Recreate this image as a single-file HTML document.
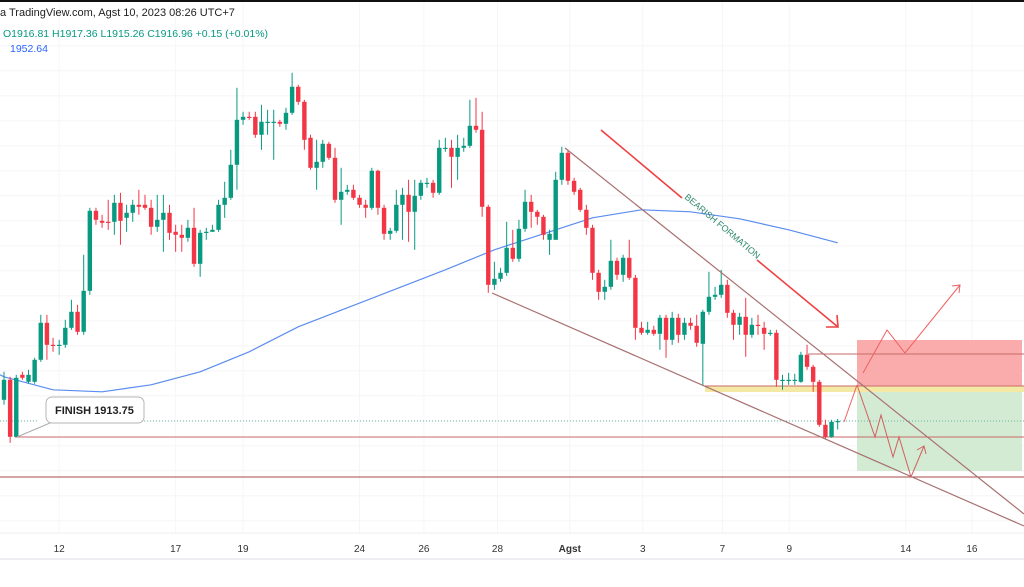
<!DOCTYPE html>
<html><head><meta charset="utf-8">
<style>
html,body{margin:0;padding:0;background:#fff;width:1024px;height:587px;overflow:hidden;font-family:"Liberation Sans",sans-serif;}
svg{display:block}
</style></head>
<body>
<svg id="chart" width="1024" height="587" viewBox="0 0 1024 587" xmlns="http://www.w3.org/2000/svg">
<rect x="0" y="0" width="1024" height="587" fill="#fff"/>
<rect x="0" y="0" width="1024" height="2" fill="#111"/>
<g id="grid"></g>
<line x1="0" y1="533" x2="1024" y2="533" stroke="#eceef2" stroke-width="1"/>
<rect x="0" y="558" width="1024" height="2" fill="#eceef2"/>
<g id="xlabels" font-size="10" fill="#333" text-anchor="middle"></g>
<rect x="857" y="340" width="165" height="47" fill="#f9a3a3" opacity="0.9"/>
<rect x="857" y="387" width="165" height="84" fill="#d3ebd3"/>
<rect x="705" y="386" width="319" height="6" fill="#f4e9a4"/>
<line x1="808" y1="354" x2="1024" y2="354" stroke="#c96a6a" stroke-width="1"/>
<line x1="705" y1="386" x2="1024" y2="386" stroke="#c96a6a" stroke-width="1"/>
<line x1="15" y1="437" x2="1024" y2="437" stroke="#c96a6a" stroke-width="1"/>
<line x1="0" y1="477" x2="1024" y2="477" stroke="#a84a4a" stroke-width="1"/>
<line x1="0" y1="421" x2="1024" y2="421" stroke="#6bb5a8" stroke-width="1" stroke-dasharray="1,2"/>
<g id="ma"></g>
<g id="candles"></g>
<line x1="565" y1="148" x2="1024" y2="514" stroke="#a87070" stroke-width="1.2"/>
<line x1="492" y1="293" x2="1024" y2="526" stroke="#a87070" stroke-width="1.2"/>
<g stroke="#ef4040" stroke-width="1.6" fill="none">
<line x1="601" y1="130" x2="682" y2="198"/>
<line x1="757" y1="260" x2="838" y2="327"/>
<polyline points="826,327 838,327 837,315"/>
</g>
<text x="0" y="0" font-size="9" fill="#2e8a6e" transform="translate(684,198) rotate(40)">BEARISH FORMATION</text>
<polyline points="844,422 857,385" fill="none" stroke="#ef6060" stroke-width="1"/>
<polyline points="857,385 875,437 881,415 893,457 899,437 911,477 924,446" fill="none" stroke="#d06060" stroke-width="1"/>
<polyline points="917,450 924,446 926,454" fill="none" stroke="#d06060" stroke-width="1"/>
<polyline points="863,373 887,330 905,353 960,285" fill="none" stroke="#ef6060" stroke-width="1"/>
<polyline points="952,286 960,285 959,293" fill="none" stroke="#ef6060" stroke-width="1"/>
<polyline points="17,437 50,423 46,414" fill="#fff" stroke="#aaa" stroke-width="1"/>
<rect x="46" y="397" width="98" height="26" rx="6" fill="#fff" stroke="#b5b5b5"/>
<text x="55" y="414" font-size="11" font-weight="bold" fill="#222">FINISH  1913.75</text>
<text x="0" y="16" font-size="11" fill="#222">a TradingView.com, Agst 10, 2023 08:26 UTC+7</text>
<text x="3" y="37" font-size="10.5" fill="#089981">O1916.81  H1917.36  L1915.26  C1916.96  +0.15 (+0.01%)</text>
<text x="10" y="52" font-size="10.5" fill="#2962ff">1952.64</text>
</svg>
<script>
const opens=[1921.2,1925.2,1913.8,1926.2,1924.8,1924.8,1929.2,1936.6,1932.2,1932.0,1932.2,1935.6,1938.8,1934.8,1943.0,1959.0,1957.0,1956.8,1956.8,1960.6,1957.6,1958.6,1960.2,1960.2,1959.6,1955.8,1957.2,1958.6,1954.8,1954.2,1953.6,1955.6,1948.4,1954.6,1954.8,1955.2,1960.2,1961.6,1968.2,1977.2,1977.8,1977.8,1974.2,1976.8,1976.8,1976.8,1976.4,1978.6,1983.8,1980.8,1973.6,1967.6,1968.8,1972.4,1969.6,1961.2,1962.8,1963.2,1961.6,1960.2,1959.6,1967.0,1959.6,1954.4,1955.0,1960.2,1962.2,1958.8,1962.0,1964.6,1964.6,1962.6,1971.6,1971.6,1969.8,1971.6,1972.0,1976.0,1975.2,1959.8,1944.2,1945.4,1946.6,1951.6,1949.4,1955.4,1960.8,1958.8,1957.8,1953.2,1953.2,1965.2,1970.6,1965.0,1963.2,1959.2,1955.6,1946.6,1942.8,1943.8,1949.0,1946.2,1949.6,1945.6,1935.6,1934.6,1935.2,1934.4,1937.6,1933.2,1937.6,1934.2,1936.6,1936.0,1932.4,1938.8,1941.8,1942.2,1944.2,1938.6,1936.2,1937.8,1934.2,1936.2,1935.6,1934.4,1934.6,1925.2,1925.2,1925.2,1924.8,1930.2,1927.8,1924.8,1916.2,1913.8,1916.81];
const closes=[1925.2,1913.8,1925.6,1925.6,1926.2,1929.2,1936.6,1932.2,1932.0,1932.2,1935.6,1938.8,1934.8,1943.0,1959.0,1957.2,1956.6,1956.6,1960.6,1957.0,1958.6,1960.2,1959.8,1959.6,1955.8,1957.2,1958.6,1954.6,1954.2,1953.6,1955.6,1948.4,1954.6,1954.8,1955.2,1960.2,1961.6,1968.2,1977.2,1977.8,1977.6,1974.2,1976.8,1976.8,1976.8,1976.4,1978.6,1983.8,1980.8,1973.2,1967.6,1968.8,1972.4,1969.6,1961.2,1962.8,1963.2,1961.6,1960.2,1959.6,1967.0,1959.6,1954.4,1955.0,1960.2,1962.2,1958.8,1962.0,1964.6,1964.6,1962.6,1971.6,1971.6,1969.8,1971.6,1972.0,1976.0,1975.2,1959.8,1944.2,1945.4,1946.6,1951.6,1949.4,1955.4,1960.8,1958.8,1957.8,1954.2,1954.4,1965.2,1970.6,1965.0,1962.8,1959.2,1955.6,1946.6,1942.8,1943.8,1949.0,1946.2,1949.6,1945.6,1935.6,1934.6,1935.2,1934.4,1937.6,1933.2,1937.6,1934.2,1936.6,1936.0,1932.6,1938.8,1941.8,1942.2,1944.2,1938.6,1936.2,1937.8,1934.2,1936.2,1936.0,1934.4,1934.6,1925.2,1925.2,1925.2,1925.2,1930.2,1927.8,1924.8,1916.2,1913.8,1916.8,1916.96];
const highs=[1926.8,1925.8,1926.2,1926.8,1927.2,1929.6,1938.2,1938.2,1933.6,1933.2,1937.2,1941.2,1940.2,1950.2,1959.6,1959.6,1958.2,1961.2,1962.2,1962.6,1960.2,1961.2,1963.2,1962.2,1961.2,1962.2,1962.2,1960.2,1956.2,1956.2,1957.2,1959.6,1955.2,1955.6,1956.2,1961.2,1964.8,1971.2,1983.6,1978.8,1978.8,1978.8,1980.2,1979.2,1979.2,1977.2,1979.6,1986.6,1984.2,1981.2,1974.2,1973.2,1973.2,1972.8,1971.6,1967.6,1964.2,1964.2,1962.2,1961.2,1967.6,1967.2,1960.2,1955.6,1963.2,1963.6,1965.2,1965.2,1965.2,1965.6,1965.2,1973.2,1973.6,1973.2,1974.2,1973.6,1981.2,1981.6,1978.8,1960.2,1948.8,1947.6,1956.8,1955.2,1957.2,1963.2,1962.2,1959.2,1958.2,1955.2,1966.8,1971.8,1971.2,1965.6,1963.6,1960.2,1956.2,1947.2,1945.2,1953.2,1949.6,1950.2,1953.2,1946.2,1936.8,1936.8,1936.0,1938.2,1938.2,1938.8,1938.4,1937.6,1937.6,1938.2,1939.2,1946.8,1943.8,1947.2,1945.2,1939.2,1938.6,1941.6,1937.6,1938.2,1936.8,1935.2,1935.2,1926.2,1926.6,1926.4,1930.8,1932.2,1928.2,1925.2,1917.2,1917.2,1917.36];
const lows=[1920.2,1912.6,1913.8,1925.2,1924.4,1924.4,1928.8,1929.2,1930.8,1930.2,1931.6,1935.2,1934.2,1934.2,1942.2,1956.2,1955.6,1955.2,1954.2,1952.2,1954.8,1956.8,1958.2,1959.2,1954.2,1954.8,1950.8,1953.2,1950.8,1950.8,1952.8,1947.8,1945.8,1953.2,1954.8,1954.8,1957.6,1961.2,1963.2,1976.2,1977.2,1973.6,1971.2,1974.2,1969.2,1975.8,1975.2,1978.2,1980.2,1971.2,1967.2,1963.2,1967.6,1969.2,1960.6,1956.2,1962.2,1961.2,1959.6,1957.6,1959.2,1958.2,1953.2,1953.2,1954.6,1953.2,1952.8,1951.2,1961.2,1963.6,1961.6,1962.2,1970.8,1963.6,1965.2,1970.8,1971.6,1974.6,1957.8,1942.6,1943.2,1944.8,1946.0,1948.8,1948.8,1954.8,1955.6,1956.2,1953.2,1950.2,1953.2,1964.2,1964.2,1962.2,1958.8,1954.2,1945.2,1941.2,1941.2,1943.2,1945.2,1944.8,1945.2,1933.2,1934.2,1934.2,1934.0,1931.2,1929.6,1932.2,1932.6,1933.2,1935.2,1931.8,1924.0,1938.2,1941.2,1941.6,1937.6,1933.2,1934.2,1929.8,1933.6,1934.2,1931.2,1934.0,1923.8,1923.2,1924.2,1924.2,1924.6,1927.2,1922.8,1915.8,1913.4,1913.6,1915.26];
const maIndex=[0,8,16,24,32,40,48,56,64,72,80,88,96,104,112,120,128,136];
const maValues=[1925.8,1923.2,1922.8,1924.2,1926.8,1930.8,1935.8,1939.6,1943.4,1947.2,1951.2,1954.4,1957.6,1959.2,1958.8,1957.4,1955.2,1952.6];
const dateLabels=["12","17","19","24","26","28","Agst","3","7","9","14","16"];
const dateIndex=[9,28,39,58,68.5,80.5,92.3,104.2,117.2,128.1,147.1,157.9];

const NS="http://www.w3.org/2000/svg";
const X0=4, STEP=6.13;
function xs(i){return X0+i*STEP;}
function ys(p){return 421-(p-1916.96)*5;}

const grid=document.getElementById('grid');
for(let p=1895;p<=1990;p+=5){
  const l=document.createElementNS(NS,'line');
  
  
  l.setAttribute('x1',0);l.setAttribute('x2',1024);
  l.setAttribute('y1',ys(p+2));l.setAttribute('y2',ys(p+2));
  l.setAttribute('stroke','#f5f6f8');grid.appendChild(l);
}
const xl=document.getElementById('xlabels');
dateLabels.forEach((d,k)=>{
  const x=xs(dateIndex[k]);
  const l=document.createElementNS(NS,'line');
  
  
  l.setAttribute('x1',x);l.setAttribute('x2',x);l.setAttribute('y1',2);l.setAttribute('y2',533);
  l.setAttribute('stroke','#f5f6f8');grid.appendChild(l);
  const t=document.createElementNS(NS,'text');
  
  
  t.setAttribute('x',x);t.setAttribute('y',552);
  if(d==='Agst')t.setAttribute('font-weight','bold');
  t.textContent=d;xl.appendChild(t);
});

const cg=document.getElementById('candles');
for(let i=0;i<opens.length;i++){
  const o=opens[i],c=closes[i],h=highs[i],lo=lows[i];
  const up=c>=o, col=up?'#089981':'#f23645';
  const x=xs(i);
  const w=document.createElementNS(NS,'line');
  
  
  w.setAttribute('x1',x);w.setAttribute('x2',x);
  w.setAttribute('y1',ys(h));w.setAttribute('y2',ys(lo));
  w.setAttribute('stroke',col);w.setAttribute('stroke-width',1);
  cg.appendChild(w);
  const b=document.createElementNS(NS,'rect');
  
  
  const top=Math.min(ys(o),ys(c)),hh=Math.max(1.2,Math.abs(ys(o)-ys(c)));
  b.setAttribute('x',x-2.2);b.setAttribute('width',4.4);
  b.setAttribute('y',top);b.setAttribute('height',hh);
  b.setAttribute('fill',col);cg.appendChild(b);
}
const mg=document.getElementById('ma');
let d='M0 '+ys(1926.2);
maIndex.forEach((ix,k)=>{d+=' L'+xs(ix)+' '+ys(maValues[k]);});
const mp=document.createElementNS(NS,'path');


mp.setAttribute('d',d);
mp.setAttribute('fill','none');mp.setAttribute('stroke','#5b8def');mp.setAttribute('stroke-width',1.2);
mp.setAttribute('stroke-linejoin','round');
mg.appendChild(mp);
</script>
</body></html>
